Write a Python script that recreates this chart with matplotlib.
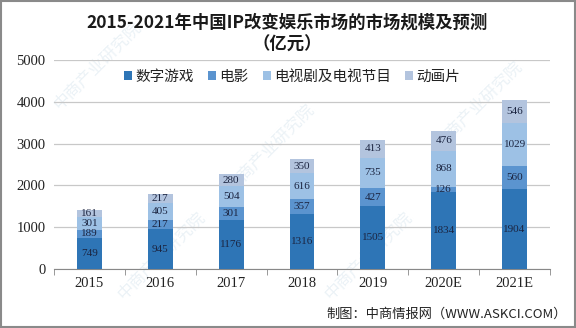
import matplotlib
matplotlib.use("Agg")
import matplotlib.pyplot as plt
from matplotlib.patches import Rectangle
import numpy as np

plt.rcParams['font.family'] = ['Noto Sans CJK SC', 'DejaVu Sans']

years = ["2015", "2016", "2017", "2018", "2019", "2020E", "2021E"]
series_names = ["数字游戏", "电影", "电视剧及电视节目", "动画片"]
games = [749, 945, 1176, 1316, 1505, 1834, 1904]
film = [189, 217, 301, 357, 427, 126, 560]
tv = [301, 405, 504, 616, 735, 868, 1029]
animation = [161, 217, 280, 350, 413, 476, 546]
colors = ["#2e75b6", "#5b94cf", "#9dc1e5", "#b3c4de"]

title_main = "2015-2021年中国IP改变娱乐市场的市场规模及预测"
title_unit = "（亿元）"
credit = "制图：中商情报网（WWW.ASKCI.COM）"

fig = plt.figure(figsize=(5.76, 3.28), dpi=100)
fig.patch.set_facecolor("white")

# faint diagonal watermark text behind everything
for wx, wy in [(0.17, 0.80), (0.47, 0.55), (0.83, 0.68), (0.28, 0.22), (0.64, 0.22)]:
    fig.text(wx, wy, "中商产业研究院", rotation=45, ha="center", va="center",
             fontsize=12, color="#d3e2ec", alpha=0.45, zorder=-1)

ax = fig.add_axes([54 / 576, 1 - 269 / 328, 496 / 576, 209 / 328])
ax.patch.set_alpha(0)

x = np.arange(len(years))
bottom = np.zeros(len(years))
for name, vals, c in zip(series_names, [games, film, tv, animation], colors):
    vals = np.array(vals, dtype=float)
    ax.bar(x, vals, width=0.35, bottom=bottom, color=c, label=name, zorder=3)
    for xi, b, v in zip(x, bottom, vals):
        ax.text(xi, b + v / 2, f"{int(v)}", ha="center", va="center",
                fontsize=8, color="#1b2440", family="Liberation Serif", zorder=4)
    bottom += vals

ax.set_xlim(-0.5, len(years) - 0.5)
ax.set_ylim(0, 5000)
ax.set_yticks(np.arange(0, 5001, 1000))
ax.set_yticklabels([str(v) for v in range(0, 5001, 1000)],
                   family="Liberation Serif", fontsize=10.5, color="#222222")
ax.set_xticks(x)
ax.set_xticklabels(years, family="Liberation Serif", fontsize=10.5, color="#222222")
ax.tick_params(axis="x", length=0, pad=6)
ax.tick_params(axis="y", length=0, pad=6)
ax.set_xticks(np.arange(-0.5, len(years), 1.0), minor=True)
ax.tick_params(axis="x", which="minor", length=4, color="#888888", direction="out")
ax.grid(axis="y", color="#c8c8c8", linewidth=0.9, zorder=0)
for s in ["top", "right", "left"]:
    ax.spines[s].set_visible(False)
ax.spines["bottom"].set_color("#888888")

leg = ax.legend(loc="upper center", bbox_to_anchor=(0.48, 0.98), ncol=4,
                frameon=False, fontsize=10.5, handlelength=0.55, handleheight=0.55,
                handletextpad=0.2, columnspacing=1.0, borderaxespad=0)
for t in leg.get_texts():
    t.set_color("#222222")

fig.text(0.498, 1 - 23 / 328, title_main, ha="center", va="center", fontsize=12.5,
         fontweight="bold", color="#1a1a1a")
fig.text(0.498, 1 - 45 / 328, title_unit, ha="center", va="center", fontsize=12.5,
         fontweight="bold", color="#1a1a1a")
fig.text(0.985, 1 - 314 / 328, credit, ha="right", va="center", fontsize=9.5, color="#222222")

fig.add_artist(Rectangle((0.001, 0.002), 0.997, 0.995, transform=fig.transFigure,
                         fill=False, edgecolor="#8a8a8a", linewidth=1.5))

fig.savefig("out.png", dpi=100, facecolor="white")
